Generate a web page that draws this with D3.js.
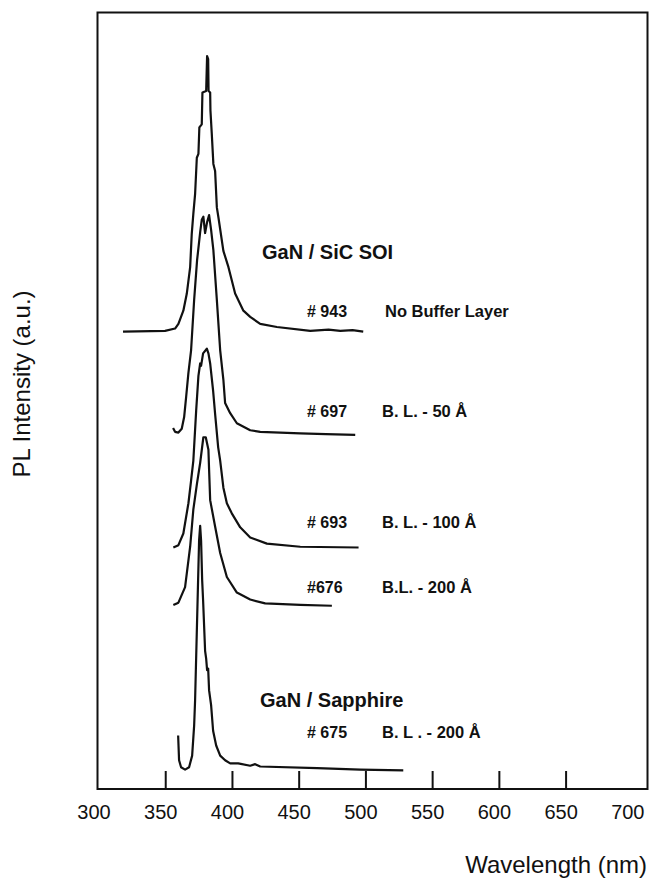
<!DOCTYPE html>
<html>
<head>
<meta charset="utf-8">
<script src="https://cdn.jsdelivr.net/npm/d3@7"></script>
<style>
  body { margin: 0; background: #fff; }
  text { font-family: "Liberation Sans", Arial, Helvetica, sans-serif; fill: #111; }
</style>
</head>
<body>
<svg id="chart"></svg>
<script>
// Wavelength axis
const wavelengthTicks = [300, 350, 400, 450, 500, 550, 600, 650, 700];
const innerTicks = [350, 400, 450, 500, 550, 600, 650];

// PL spectra, [wavelength nm, intensity a.u. above own baseline]
const s943 = [
  [318, 0], [349.5, 0.1], [357, 0.4], [359.5, 1.0], [363.2, 2.7], [365.8, 4.9],
  [368.3, 8.3], [369.5, 12.6], [370.7, 15.2], [372, 17.7], [373.3, 22.4],
  [374.5, 22.9], [375.2, 26.3], [377, 26.7], [377.5, 30.8], [380.3, 31.0],
  [381, 35.5], [381.8, 35.1], [382.1, 31.0], [383.3, 30.8], [383.5, 28.5],
  [384.5, 25.5], [385.7, 21.6], [387, 20.7], [388.3, 16.0], [389.5, 14.7],
  [393.2, 10.4], [397, 8.3], [402, 4.9], [408.2, 2.7], [413.3, 1.9],
  [420.8, 1.0], [433.3, 0.6], [458.3, 0.1], [472, 0.25], [480.8, 0.1],
  [490, 0.2], [498, 0]
];
const s697 = [
  [355.5, 0.9], [357, 0.4], [359.5, 0.3], [362, 0.8], [363.8, 2.3],
  [365.3, 4.9], [367, 8.0], [369, 10.9], [371.3, 17.4], [373.5, 22.5],
  [375.8, 26.1], [377, 27.7], [378.2, 28.1], [379.5, 26.0], [381, 27.4],
  [382.5, 28.3], [384, 26.4], [385.7, 23.8], [388.3, 17.4], [390.8, 10.9],
  [393.2, 7.1], [394.5, 4.1], [398.3, 2.8], [403.3, 1.5], [413.3, 0.6],
  [420.8, 0.4], [450.8, 0.2], [470, 0.1], [492, 0]
];
const s693 = [
  [355.7, 0], [359.5, 0.3], [363.2, 1.8], [367, 5.7], [369, 8.6],
  [370.7, 11.2], [372.8, 17.6], [374.5, 22.1], [375.8, 23.7], [376.5, 23.4],
  [378, 25.0], [380.8, 25.6], [382, 25.0], [383.3, 23.7], [385.5, 20.2],
  [387, 17.2], [389.3, 12.9], [390.8, 11.2], [393.2, 7.7], [395.8, 5.7],
  [399.5, 4.4], [405.8, 2.6], [413.3, 1.3], [425.8, 0.5], [450.8, 0.1],
  [494.5, 0]
];
const s676 = [
  [355.7, 0.1], [359.5, 0.4], [364.5, 2.4], [368.3, 7.6], [370.7, 12.4],
  [373.3, 15.6], [375.8, 18.4], [378.2, 21.7], [380, 21.7], [382, 20.1],
  [382.5, 17.5], [383.3, 13.6], [387, 10.2], [390.8, 6.8], [395.8, 3.7],
  [403.3, 1.7], [413.3, 0.8], [424.5, 0.3], [450.8, 0.1], [474.5, 0]
];
const s675 = [
  [359.3, 4.5], [360, 1.3], [361.5, 0.4], [364.5, 0.1], [367.5, 0.4],
  [369.8, 1.9], [371.3, 5.8], [372, 9.0], [373.5, 19.3], [375, 29.6],
  [375.8, 31.5], [376.5, 29.6], [377.3, 24.5], [378, 21.9], [379.5, 15.4],
  [380.3, 14.4], [381, 12.9], [381.8, 13.1], [382.5, 10.3], [384, 8.4],
  [385.5, 5.1], [387.8, 3.2], [390.8, 1.9], [394.5, 1.3], [398.3, 0.9],
  [404.3, 0.9], [413.3, 0.6], [417, 0.8], [420.8, 0.5], [463.5, 0.3],
  [495.8, 0.1], [528, 0]
];

// vertical offsets of each trace (a.u.)
const spectra = [s943, s697, s693, s676, s675];
const offsets = [58.9, 45.6, 31.1, 23.6, 2.4];
const sampleIds = ['# 943', '# 697', '# 693', '#676', '# 675'];
const bufferLabels = ['No Buffer Layer', 'B. L. - 50 Å', 'B. L. - 100 Å', 'B.L. - 200 Å', 'B. L . - 200 Å'];
const groupTitles = ['GaN / SiC SOI', 'GaN / Sapphire'];

const width = 649;
const height = 880;
const margin = { top: 12.5, right: 1.5, bottom: 91, left: 97.5 };

const svg = d3.select('#chart').attr('width', width).attr('height', height);

const x = d3.scaleLinear()
  .domain([300, 711])
  .range([margin.left + 1.5, width - margin.right]);

const y = d3.scaleLinear()
  .domain([0, 100])
  .range([height - margin.bottom, margin.top]);

// Frame
svg.append('rect')
  .attr('x', margin.left)
  .attr('y', margin.top)
  .attr('width', width - margin.right - margin.left)
  .attr('height', height - margin.bottom - margin.top)
  .attr('fill', 'none')
  .attr('stroke', '#111')
  .attr('stroke-width', 2);

// Inward ticks along the bottom
svg.selectAll('.tick-mark')
  .data(innerTicks)
  .enter()
  .append('line')
  .attr('x1', d => x(d))
  .attr('x2', d => x(d))
  .attr('y1', y(0))
  .attr('y2', y(0) - 18)
  .attr('stroke', '#111')
  .attr('stroke-width', 2);

svg.selectAll('.tick-label')
  .data(wavelengthTicks)
  .enter()
  .append('text')
  .attr('x', d => x(d) - 5)
  .attr('y', y(0) + 30)
  .attr('text-anchor', 'middle')
  .style('font-size', '20px')
  .text(d => d);

// Axis titles
svg.append('text')
  .attr('x', width - 2)
  .attr('y', 873)
  .attr('text-anchor', 'end')
  .style('font-size', '24px')
  .text('Wavelength (nm)');

svg.append('text')
  .attr('transform', 'translate(30,384) rotate(-90)')
  .attr('text-anchor', 'middle')
  .style('font-size', '24px')
  .text('PL Intensity (a.u.)');

// Traces
const line = d3.line()
  .x(d => x(d[0]))
  .y(d => y(d[1]));

svg.selectAll('.trace')
  .data(spectra)
  .enter()
  .append('path')
  .attr('class', 'trace')
  .attr('d', (d, i) => line(d.map(p => [p[0], p[1] + offsets[i]])))
  .attr('fill', 'none')
  .attr('stroke', '#111')
  .attr('stroke-width', 2.2)
  .attr('stroke-linejoin', 'round');

// Annotations (pixels above each trace baseline)
const labelRise = [15, 18, 20, 13, 32];

svg.selectAll('.sample-id')
  .data(sampleIds)
  .enter()
  .append('text')
  .attr('x', 307)
  .attr('y', (d, i) => y(offsets[i]) - labelRise[i])
  .style('font-size', '16px')
  .style('font-weight', 'bold')
  .text(d => d);

svg.selectAll('.buffer-label')
  .data(bufferLabels)
  .enter()
  .append('text')
  .attr('x', (d, i) => (i === 0 ? 385 : 382))
  .attr('y', (d, i) => y(offsets[i]) - labelRise[i])
  .style('font-size', '16.5px')
  .style('font-weight', 'bold')
  .text(d => d);

svg.append('text')
  .attr('x', 262)
  .attr('y', 259)
  .style('font-size', '20px')
  .style('font-weight', 'bold')
  .text(groupTitles[0]);

svg.append('text')
  .attr('x', 260)
  .attr('y', 707)
  .style('font-size', '20px')
  .style('font-weight', 'bold')
  .text(groupTitles[1]);
</script>
</body>
</html>
